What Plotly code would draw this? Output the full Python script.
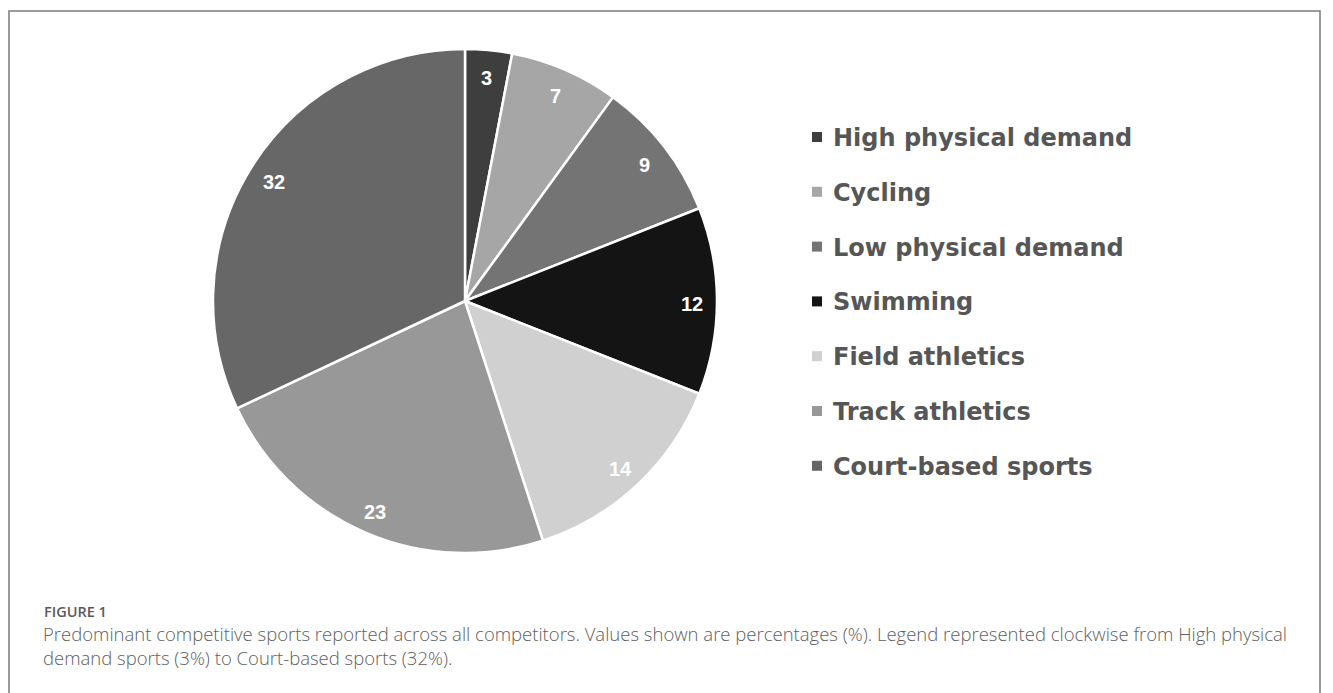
import math
import plotly.graph_objects as go

# Sport categories, listed clockwise from 12 o'clock
categories = [
    "High physical demand",
    "Cycling",
    "Low physical demand",
    "Swimming",
    "Field athletics",
    "Track athletics",
    "Court-based sports",
]
shares = [3, 7, 9, 12, 14, 23, 32]  # percent of competitors
slice_colors = ["#3e3e3e", "#a6a6a6", "#747474", "#141414", "#d0d0d0", "#989898", "#676767"]

W, H = 1333, 693

# pie placement in pixels (centre + radius)
cx, cy, R = 465, 301, 252
dom_x = [(cx - R) / W, (cx + R) / W]
dom_y = [1 - (cy + R) / H, 1 - (cy - R) / H]

fig = go.Figure(
    go.Pie(
        labels=categories,
        values=shares,
        sort=False,
        direction="clockwise",
        rotation=0,
        marker=dict(colors=slice_colors, line=dict(color="white", width=2.5)),
        textinfo="none",
        hoverinfo="label+value",
        showlegend=False,
        domain=dict(x=dom_x, y=dom_y),
    )
)

annotations = []
shapes = []

# value labels near the rim of each slice
total = sum(shares)
cum = 0
for v in shares:
    mid = (cum + v / 2) / total * 2 * math.pi
    cum += v
    px = cx + 0.9 * R * math.sin(mid)
    py = cy - 0.9 * R * math.cos(mid) + 3
    annotations.append(dict(
        x=px / W, y=1 - py / H, xref="paper", yref="paper",
        text=f"<b>{v}</b>", showarrow=False,
        font=dict(family="Liberation Sans, Arial, sans-serif", size=20, color="white"),
        xanchor="center", yanchor="middle",
    ))

# legend: square swatch + label per category
leg_x0, leg_y0, leg_step = 812, 137, 54.8
for i, (name, col) in enumerate(zip(categories, slice_colors)):
    yc = leg_y0 + i * leg_step
    shapes.append(dict(
        type="rect", xref="paper", yref="paper",
        x0=leg_x0 / W, x1=(leg_x0 + 10) / W,
        y0=1 - (yc + 5) / H, y1=1 - (yc - 5) / H,
        fillcolor=col, line=dict(width=0),
    ))
    annotations.append(dict(
        x=831 / W, y=1 - (yc + 1) / H, xref="paper", yref="paper",
        text=f"<b>{name}</b>", showarrow=False,
        font=dict(family="DejaVu Sans, sans-serif", size=24, color="#565656"),
        xanchor="left", yanchor="middle",
    ))

# frame around the figure
shapes.append(dict(
    type="rect", xref="paper", yref="paper",
    x0=9 / W, x1=1320 / W, y0=-0.05, y1=1 - 11 / H,
    line=dict(color="#7a7a7a", width=1.5), fillcolor="rgba(0,0,0,0)",
))

# caption
annotations.append(dict(
    x=42 / W, y=1 - 611 / H, xref="paper", yref="paper",
    text="FIGURE 1", showarrow=False,
    font=dict(family="Open Sans, sans-serif", size=14.5, color="#5a5a5a", weight=600),
    xanchor="left", yanchor="middle",
))
annotations.append(dict(
    x=41 / W, y=1 - 645 / H, xref="paper", yref="paper",
    text=("Predominant competitive sports reported across all competitors. Values shown are percentages (%). "
          "Legend represented clockwise from High physical<br>demand sports (3%) to Court-based sports (32%)."),
    showarrow=False, align="left",
    font=dict(family="Open Sans, sans-serif", size=18.5, color="#606060", weight=300),
    xanchor="left", yanchor="middle",
))

fig.update_layout(
    width=W, height=H,
    margin=dict(l=0, r=0, t=0, b=0),
    paper_bgcolor="white", plot_bgcolor="white",
    annotations=annotations, shapes=shapes,
)

fig.write_html("out.html", config={"displayModeBar": False})
